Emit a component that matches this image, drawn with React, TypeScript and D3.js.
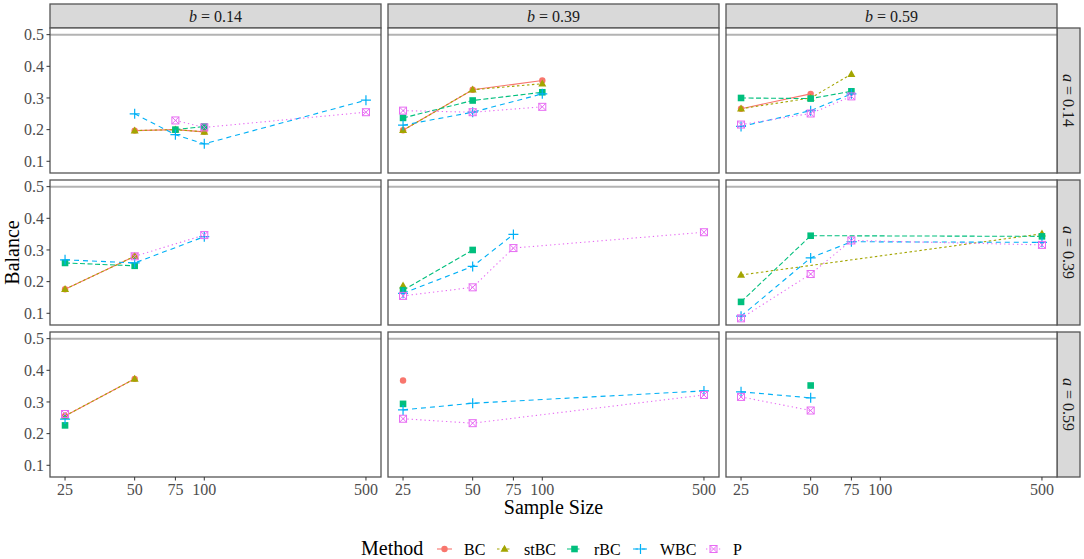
import * as d3 from "d3";

// sample sizes on the (log) x axis
const sizes = [25, 50, 75, 100, 500];
const aLevels = ["0.14", "0.39", "0.59"]; // facet rows
const bLevels = ["0.14", "0.39", "0.59"]; // facet columns
const yTicks = [0.1, 0.2, 0.3, 0.4, 0.5];
const methods = ["BC", "stBC", "rBC", "WBC", "P"];

const N = null;
// values[row a][col b][size index]
const bcValues = [
  [[N, 0.197, 0.2, 0.193, N], [0.198, 0.326, N, 0.355, N], [0.266, 0.313, N, N, N]],
  [[0.176, 0.28, N, N, N], [N, N, N, N, N], [N, N, N, N, N]],
  [[0.256, 0.373, N, N, N], [0.368, N, N, N, N], [N, N, N, N, N]],
];
const stbcValues = [
  [[N, 0.197, 0.2, 0.193, N], [0.198, 0.326, N, 0.345, N], [0.266, 0.3, 0.375, N, N]],
  [[0.176, 0.28, N, N, N], [0.187, N, N, N, N], [0.221, N, N, N, 0.351]],
  [[0.256, 0.373, N, N, N], [N, N, N, N, N], [N, N, N, N, N]],
];
const rbcValues = [
  [[N, N, 0.2, 0.21, N], [0.237, 0.292, N, 0.318, N], [0.3, 0.298, 0.321, N, N]],
  [[0.259, 0.25, N, N, N], [0.173, 0.3, N, N, N], [0.136, 0.345, N, N, 0.343]],
  [[0.226, N, N, N, N], [0.294, N, N, N, N], [N, 0.352, N, N, N]],
];
const wbcValues = [
  [[N, 0.25, 0.184, 0.155, 0.293], [0.214, 0.255, N, 0.313, N], [0.21, 0.26, 0.313, N, N]],
  [[0.269, 0.259, N, 0.342, N], [0.163, 0.248, 0.349, N, N], [0.091, 0.275, 0.326, N, 0.324]],
  [[0.246, N, N, N, N], [0.275, 0.296, N, N, 0.335], [0.332, 0.313, N, N, N]],
];
const pValues = [
  [[N, N, 0.229, 0.207, 0.255], [0.26, 0.255, N, 0.272, N], [0.216, 0.251, 0.305, N, N]],
  [[N, 0.28, N, 0.347, N], [0.155, 0.182, 0.306, N, 0.356], [0.084, 0.224, 0.33, N, 0.316]],
  [[0.262, N, N, N, N], [0.247, 0.233, N, N, 0.322], [0.316, 0.273, N, N, N]],
];
const methodValues = [bcValues, stbcValues, rbcValues, wbcValues, pValues];

const colors = ["#F8766D", "#A3A500", "#00BF7D", "#00B0F6", "#E76BF3"];
const dashes = ["none", "2.5,2.5", "5,2.5", "5,4", "1.3,3"];
const shapes = ["circle", "triangle", "square", "plus", "squarecross"];

const font = "'Liberation Serif', 'Times New Roman', serif";
const panelX = [50, 388, 726];
const panelY = [28, 180, 332];
const PW = 331;
const PH = 145;
const border = "#555";

function Marker({ shape, x, y, color }: { shape: string; x: number; y: number; color: string }) {
  if (shape === "circle") return <circle cx={x} cy={y} r={3.2} fill={color} />;
  if (shape === "triangle")
    return <path d={`M${x},${y - 4.2}L${x + 4},${y + 2.8}L${x - 4},${y + 2.8}Z`} fill={color} />;
  if (shape === "square") return <rect x={x - 3.3} y={y - 3.3} width={6.6} height={6.6} fill={color} />;
  if (shape === "plus")
    return (
      <path d={`M${x - 5},${y}H${x + 5}M${x},${y - 5}V${y + 5}`} stroke={color} strokeWidth={1.2} fill="none" />
    );
  return (
    <g stroke={color} strokeWidth={1} fill="none">
      <rect x={x - 3.5} y={y - 3.5} width={7} height={7} />
      <path d={`M${x - 3.5},${y - 3.5}L${x + 3.5},${y + 3.5}M${x + 3.5},${y - 3.5}L${x - 3.5},${y + 3.5}`} />
    </g>
  );
}

export default function App() {
  const lo = Math.log10(25);
  const hi = Math.log10(500);
  const ex = (hi - lo) * 0.05;
  const xDomain = [Math.pow(10, lo - ex), Math.pow(10, hi + ex)];

  const panels: JSX.Element[] = [];
  aLevels.forEach((a, r) => {
    bLevels.forEach((b, c) => {
      const x = d3.scaleLog().domain(xDomain).range([panelX[c], panelX[c] + PW]);
      const y = d3.scaleLinear().domain([0.063, 0.521]).range([panelY[r] + PH, panelY[r]]);
      const line = d3
        .line<[number, number]>()
        .x((d) => x(d[0]))
        .y((d) => y(d[1]));
      const series = methods.map((m, k) =>
        sizes
          .map((s, i) => [s, methodValues[k][r][c][i]] as [number, number | null])
          .filter((d) => d[1] !== null) as [number, number][]
      );
      panels.push(
        <g key={`p${r}${c}`}>
          <rect x={panelX[c]} y={panelY[r]} width={PW} height={PH} fill="white" />
          <line x1={panelX[c]} x2={panelX[c] + PW} y1={y(0.5)} y2={y(0.5)} stroke="#b3b3b3" strokeWidth={2} />
          {series.map((pts, k) =>
            pts.length > 1 ? (
              <path
                key={`l${k}`}
                d={line(pts) || ""}
                fill="none"
                stroke={colors[k]}
                strokeWidth={1.1}
                strokeDasharray={dashes[k]}
              />
            ) : null
          )}
          {series.map((pts, k) =>
            pts.map((d, i) => (
              <Marker key={`m${k}-${i}`} shape={shapes[k]} x={x(d[0])} y={y(d[1])} color={colors[k]} />
            ))
          )}
          <rect x={panelX[c]} y={panelY[r]} width={PW} height={PH} fill="none" stroke={border} strokeWidth={1.3} />
          {c === 0 &&
            yTicks.map((t) => (
              <g key={`yt${t}`}>
                <line x1={panelX[0] - 3.5} x2={panelX[0]} y1={y(t)} y2={y(t)} stroke="#333" />
                <text x={panelX[0] - 6} y={y(t)} dy="0.35em" textAnchor="end" fontSize={16} fill="#4d4d4d">
                  {t.toFixed(1)}
                </text>
              </g>
            ))}
          {r === 2 &&
            sizes.map((s) => (
              <g key={`xt${s}`}>
                <line x1={x(s)} x2={x(s)} y1={panelY[2] + PH} y2={panelY[2] + PH + 3.5} stroke="#333" />
                <text x={x(s)} y={panelY[2] + PH + 18} textAnchor="middle" fontSize={16} fill="#4d4d4d">
                  {s}
                </text>
              </g>
            ))}
        </g>
      );
    });
  });

  return (
    <svg
      width={1084}
      height={559}
      style={{ position: "absolute", left: 0, top: 0, background: "white" }}
      fontFamily={font}
    >
      {bLevels.map((b, c) => (
        <g key={`sb${c}`}>
          <rect x={panelX[c]} y={4} width={PW} height={24} fill="#d9d9d9" stroke={border} strokeWidth={1.3} />
          <text x={panelX[c] + PW / 2} y={21.5} textAnchor="middle" fontSize={16} fill="#1a1a1a">
            <tspan fontStyle="italic">b</tspan> = {b}
          </text>
        </g>
      ))}
      {aLevels.map((a, r) => (
        <g key={`sa${r}`}>
          <rect x={panelX[2] + PW} y={panelY[r]} width={23} height={PH} fill="#d9d9d9" stroke={border} strokeWidth={1.3} />
          <text
            transform={`translate(${panelX[2] + PW + 11.5},${panelY[r] + PH / 2}) rotate(90)`}
            textAnchor="middle"
            dy="0.35em"
            fontSize={16}
            fill="#1a1a1a"
          >
            <tspan fontStyle="italic">a</tspan> = {a}
          </text>
        </g>
      ))}
      {panels}
      <text transform={`translate(19,${(panelY[0] + panelY[2] + PH) / 2}) rotate(-90)`} textAnchor="middle" fontSize={20}>
        Balance
      </text>
      <text x={(panelX[0] + panelX[2] + PW) / 2} y={514} textAnchor="middle" fontSize={20}>
        Sample Size
      </text>
      <text x={361} y={555} fontSize={20}>
        Method
      </text>
      {methods.map((m, k) => {
        const kx = [437, 497, 567, 633, 706][k];
        const ky = 549;
        return (
          <g key={`lg${m}`}>
            <line x1={kx} x2={kx + 15} y1={ky} y2={ky} stroke={colors[k]} strokeWidth={1.1} strokeDasharray={dashes[k]} />
            <Marker shape={shapes[k]} x={kx + 7.5} y={ky} color={colors[k]} />
            <text x={kx + 27} y={ky} dy="0.35em" fontSize={16}>
              {m}
            </text>
          </g>
        );
      })}
    </svg>
  );
}
